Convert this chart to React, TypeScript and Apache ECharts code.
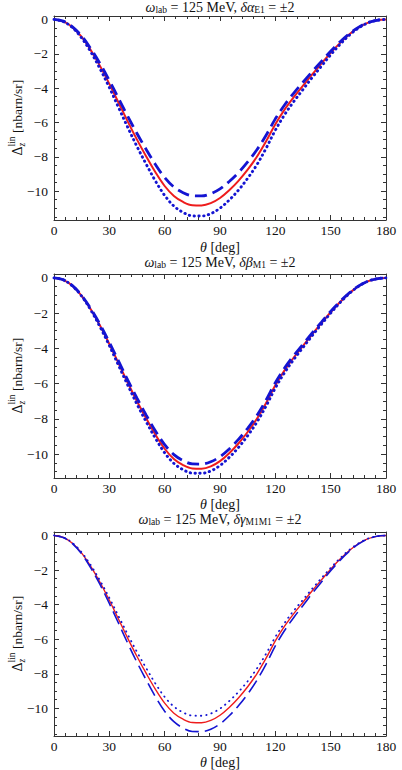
import React, { useEffect, useRef } from "react";
import * as echarts from "echarts";

// Scattering angle θ [deg]
const theta = [0, 5, 10, 15, 20, 25, 30, 35, 40, 45, 50, 55, 60, 65, 70, 75, 80, 85, 90, 95, 100, 105, 110, 115, 120, 125, 130, 135, 140, 145, 150, 155, 160, 165, 170, 175, 180];

// central curve (red, solid) – same in all panels
const central = [0, -0.11, -0.45, -1.02, -1.80, -2.72, -3.75, -4.85, -5.95, -7.00, -7.98, -8.90, -9.70, -10.28, -10.63, -10.82, -10.83, -10.70, -10.40, -9.95, -9.40, -8.75, -8.00, -7.10, -6.10, -5.25, -4.52, -3.86, -3.20, -2.57, -1.95, -1.38, -0.88, -0.48, -0.20, -0.05, 0];

// panel 1: δα_E1 = ±2
const alphaDashed = [0, -0.10, -0.43, -0.97, -1.71, -2.58, -3.56, -4.60, -5.65, -6.64, -7.57, -8.45, -9.21, -9.76, -10.09, -10.27, -10.28, -10.15, -9.87, -9.44, -8.92, -8.30, -7.59, -6.74, -5.79, -4.98, -4.29, -3.66, -3.04, -2.44, -1.85, -1.31, -0.84, -0.46, -0.19, -0.05, 0];
const alphaDotted = [0, -0.12, -0.48, -1.08, -1.90, -2.88, -3.96, -5.13, -6.29, -7.40, -8.43, -9.41, -10.25, -10.87, -11.24, -11.44, -11.45, -11.31, -10.99, -10.52, -9.94, -9.25, -8.46, -7.50, -6.45, -5.55, -4.78, -4.08, -3.38, -2.72, -2.06, -1.46, -0.93, -0.51, -0.21, -0.05, 0];

// panel 2: δβ_M1 = ±2
const betaDashed = [0, -0.11, -0.44, -1.00, -1.76, -2.65, -3.66, -4.73, -5.81, -6.83, -7.79, -8.69, -9.47, -10.03, -10.37, -10.56, -10.57, -10.44, -10.15, -9.71, -9.17, -8.54, -7.81, -6.93, -5.95, -5.12, -4.41, -3.77, -3.12, -2.51, -1.90, -1.35, -0.86, -0.47, -0.20, -0.05, 0];
const betaDotted = [0, -0.11, -0.46, -1.04, -1.84, -2.79, -3.84, -4.97, -6.09, -7.17, -8.17, -9.11, -9.93, -10.53, -10.89, -11.08, -11.09, -10.96, -10.65, -10.19, -9.63, -8.96, -8.19, -7.27, -6.25, -5.38, -4.63, -3.95, -3.28, -2.63, -2.00, -1.41, -0.90, -0.49, -0.20, -0.05, 0];

// panel 3: δγ_M1M1 = ±2
const gammaDashed = [0, -0.12, -0.47, -1.07, -1.89, -2.85, -3.93, -5.08, -6.24, -7.34, -8.36, -9.33, -10.17, -10.77, -11.14, -11.34, -11.35, -11.21, -10.90, -10.43, -9.85, -9.17, -8.38, -7.44, -6.39, -5.50, -4.74, -4.05, -3.35, -2.69, -2.04, -1.45, -0.92, -0.50, -0.21, -0.05, 0];
const gammaDotted = [0, -0.11, -0.43, -0.98, -1.73, -2.62, -3.61, -4.67, -5.73, -6.74, -7.68, -8.57, -9.34, -9.90, -10.24, -10.42, -10.43, -10.30, -10.02, -9.58, -9.05, -8.43, -7.70, -6.84, -5.87, -5.06, -4.35, -3.72, -3.08, -2.47, -1.88, -1.33, -0.85, -0.46, -0.19, -0.05, 0];

// tick labels
const xTicks = [0, 30, 60, 90, 120, 150, 180];
const yMajor = [0, -2, -4, -6, -8, -10];

const titles = [
  "{i|ω}{s|lab}{n| = 125 MeV, }{i|δα}{s|E1}{n| = ±2}",
  "{i|ω}{s|lab}{n| = 125 MeV, }{i|δβ}{s|M1}{n| = ±2}",
  "{i|ω}{s|lab}{n| = 125 MeV, }{i|δγ}{s|M1M1}{n| = ±2}",
];

const panels = [
  { dashed: alphaDashed, dotted: alphaDotted },
  { dashed: betaDashed, dotted: betaDotted },
  { dashed: gammaDashed, dotted: gammaDotted },
];

// layout / style (not data)
const FONT = "Liberation Serif";
const FRAME_TOPS = [16, 274, 532];
const TITLE_Y = [7, 262, 519];
const XTITLE_Y = [247, 504, 762];
const FRAME_H = 204;
const FRAME_L = 54;
const FRAME_W = 332;
const Y_RANGES = [
  [-11.68, 0.2],
  [-11.36, 0.22],
  [-11.6, 0.2],
];
const LINE_W = [
  { red: 2, blue: 2.8, dotW: 2.9, dash: [12, 6], dot: [0.4, 4.4] },
  { red: 2, blue: 2.8, dotW: 2.9, dash: [12, 6], dot: [0.4, 4.4] },
  { red: 1.4, blue: 1.6, dotW: 1.8, dash: [14, 6], dot: [0.4, 5] },
];
const RED = "#ee1c1c";
const BLUE = "#1414d2";
const FRAME_C = "#333";
const TEXT_C = "#111";

const richTitle = {
  n: { fontFamily: FONT, fontSize: 14, lineHeight: 15, fill: TEXT_C },
  i: { fontFamily: FONT, fontSize: 14, fontStyle: "italic", lineHeight: 15, fill: TEXT_C },
  s: { fontFamily: FONT, fontSize: 9.5, lineHeight: 9, verticalAlign: "bottom", fill: TEXT_C },
};
const richAxis = {
  n: { fontFamily: FONT, fontSize: 14, lineHeight: 14, fill: TEXT_C },
  i: { fontFamily: FONT, fontSize: 14, fontStyle: "italic", lineHeight: 14, fill: TEXT_C },
};

function buildOption() {
  const grid: any[] = [];
  const xAxis: any[] = [];
  const yAxis: any[] = [];
  const series: any[] = [];
  const graphic: any[] = [];

  FRAME_TOPS.forEach((top, g) => {
    grid.push({ left: FRAME_L, top, width: FRAME_W, height: FRAME_H, containLabel: false, outerBoundsMode: "none" });
    const [ymin, ymax] = Y_RANGES[g];
    const yMinor: number[] = [];
    for (let v = 0; v >= ymin; v -= 0.5) yMinor.push(v);

    const tickStyle = { color: FRAME_C, width: 1 };
    const xBase = {
      type: "value",
      gridIndex: g,
      min: 0,
      max: 180,
      interval: 30,
      splitLine: { show: false },
      axisLine: { show: true, onZero: false, lineStyle: { color: FRAME_C, width: 1 } },
      axisTick: { show: true, inside: true, length: 5, lineStyle: tickStyle },
      minorTick: { show: true, splitNumber: 5, length: 3, lineStyle: tickStyle },
      minorSplitLine: { show: false },
    };
    xAxis.push({
      ...xBase,
      position: "bottom",
      axisLabel: { show: true, margin: 3, fontFamily: FONT, fontSize: 13.5, lineHeight: 14, color: TEXT_C, customValues: xTicks },
    });
    xAxis.push({ ...xBase, position: "top", axisLabel: { show: false } });

    const yBase = { type: "value", gridIndex: g, min: ymin, max: ymax, splitLine: { show: false } };
    const yMajorAxis = (pos: string, labels: boolean) => ({
      ...yBase,
      position: pos,
      axisLine: { show: true, onZero: false, lineStyle: { color: FRAME_C, width: 1 } },
      axisTick: { show: true, inside: true, length: 5, customValues: yMajor, lineStyle: tickStyle },
      axisLabel: labels
        ? {
            show: true,
            customValues: yMajor,
            margin: 6,
            fontFamily: FONT,
            fontSize: 13.5,
            color: TEXT_C,
            formatter: (v: number) => String(v).replace("-", "\u2212"),
          }
        : { show: false },
    });
    const yMinorAxis = (pos: string) => ({
      ...yBase,
      position: pos,
      axisLine: { show: false, onZero: false },
      axisTick: { show: true, inside: true, length: 3, customValues: yMinor, lineStyle: tickStyle },
      axisLabel: { show: false },
    });
    yAxis.push(yMajorAxis("left", true));
    yAxis.push(yMinorAxis("left"));
    yAxis.push(yMajorAxis("right", false));
    yAxis.push(yMinorAxis("right"));

    const st = LINE_W[g];
    const p = panels[g];
    const mk = (vals: number[]) => theta.map((t, i) => [t, vals[i]]);
    const common = {
      type: "line",
      xAxisIndex: g * 2,
      yAxisIndex: g * 4,
      showSymbol: false,
      symbol: "none",
      smooth: 0.35,
      silent: true,
    };
    series.push({ ...common, name: "central" + g, data: mk(central), z: 2, lineStyle: { color: RED, width: st.red, type: "solid" } });
    series.push({ ...common, name: "dotted" + g, data: mk(p.dotted), z: 3, lineStyle: { color: BLUE, width: st.dotW, type: st.dot, cap: "round" } });
    series.push({ ...common, name: "dashed" + g, data: mk(p.dashed), z: 4, lineStyle: { color: BLUE, width: st.blue, type: st.dash, cap: "butt" } });

    const cx = FRAME_L + FRAME_W / 2;
    // panel title
    graphic.push({
      type: "text",
      x: cx,
      y: TITLE_Y[g],
      style: { text: titles[g], rich: richTitle, fontFamily: FONT, fontSize: 14, fill: TEXT_C, align: "center", verticalAlign: "middle" },
    });
    // x axis title
    graphic.push({
      type: "text",
      x: cx,
      y: XTITLE_Y[g],
      style: {
        text: "{i|θ}{n| [deg]}",
        rich: richAxis,
        fontFamily: FONT,
        fontSize: 14,
        fill: TEXT_C,
        align: "center",
        verticalAlign: "middle",
      },
    });
    // y axis title (rotated)
    const tx = (text: string, x: number, y: number, size: number, italic = false) => ({
      type: "text",
      x,
      y,
      style: { text, fontFamily: FONT, fontSize: size, fontStyle: italic ? "italic" : "normal", fill: TEXT_C, align: "left", verticalAlign: "middle" },
    });
    graphic.push({
      type: "group",
      x: 17,
      y: top + FRAME_H / 2,
      rotation: Math.PI / 2,
      children: [
        tx("Δ", -37.5, 0, 14),
        tx("lin", -28.5, -5, 9.5),
        tx("z", -28.5, 4.5, 9.5, true),
        tx("[nbarn/sr]", -15, 0, 13.5),
      ],
    });
  });

  return { animation: false, backgroundColor: "#fff", grid, xAxis, yAxis, series, graphic };
}

export default function App() {
  const ref = useRef<HTMLDivElement>(null);
  useEffect(() => {
    if (!ref.current) return;
    const chart = echarts.init(ref.current, undefined, { renderer: "svg" });
    chart.setOption(buildOption() as any);
    return () => chart.dispose();
  }, []);
  return <div ref={ref} style={{ position: "absolute", left: 0, top: 0, width: 402, height: 770, background: "#fff" }} />;
}
